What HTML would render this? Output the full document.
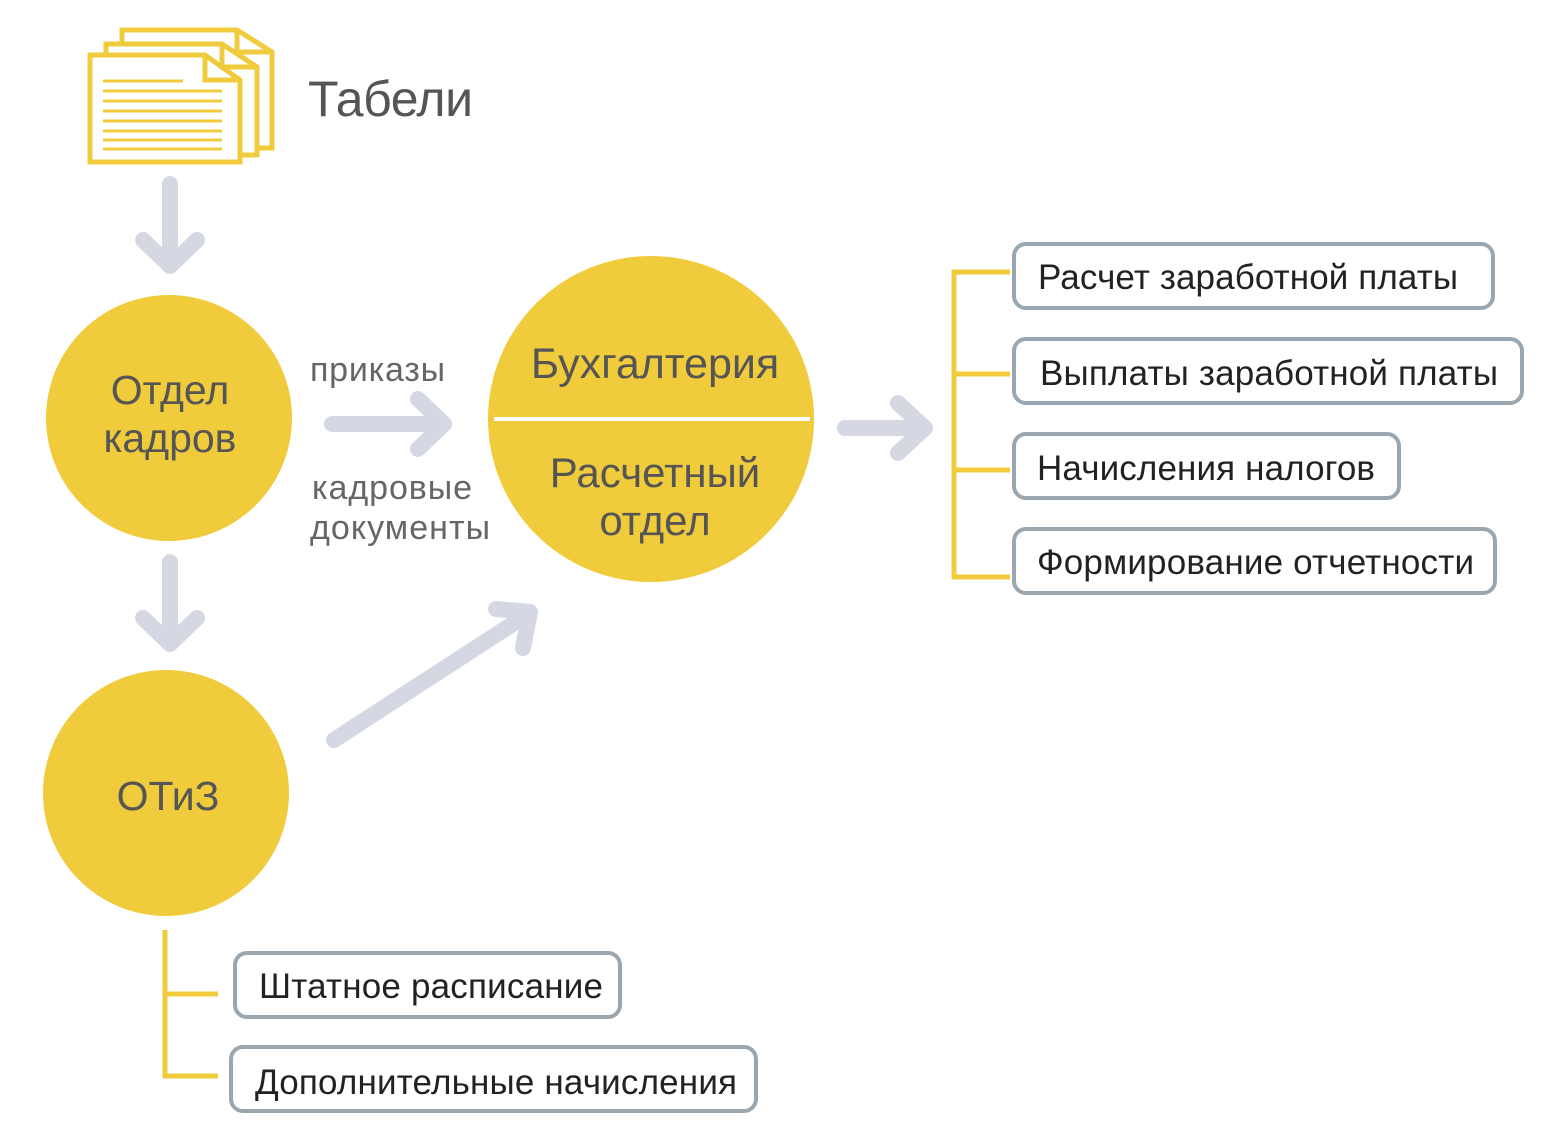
<!DOCTYPE html>
<html><head><meta charset="utf-8"><style>
html,body{margin:0;padding:0;background:#fff;}
svg{display:block;}
text{font-family:"Liberation Sans",sans-serif;}
</style></head><body>
<svg width="1561" height="1139" viewBox="0 0 1561 1139" xmlns="http://www.w3.org/2000/svg">
<!-- documents icon -->
<g fill="#fff" stroke="#F0CB3C" stroke-width="5">
<path d="M122,30 H237 L272,52 V148 H122 Z"/>
<path d="M106,44 H222 L257,67 V155 H106 Z"/>
<path d="M90,55 H205 L240,80 V162 H90 Z"/>
<path d="M205,55 V80 H240" fill="none"/>
<path d="M222,44 V67 H257" fill="none"/>
<path d="M237,30 V52 H272" fill="none"/>
</g>
<g stroke="#F0CB3C" stroke-width="3">
<line x1="103" y1="81" x2="183" y2="81"/>
<line x1="103" y1="91" x2="222" y2="91"/>
<line x1="103" y1="101" x2="222" y2="101"/>
<line x1="103" y1="111" x2="222" y2="111"/>
<line x1="103" y1="121" x2="222" y2="121"/>
<line x1="103" y1="131" x2="222" y2="131"/>
<line x1="103" y1="140" x2="222" y2="140"/>
<line x1="103" y1="149" x2="222" y2="149"/>
</g>
<text x="308" y="116" font-size="50" fill="#555" textLength="165">Табели</text>

<!-- arrows -->
<g stroke="#D5D8E2" stroke-width="16" fill="none" stroke-linecap="round" stroke-linejoin="round">
<line x1="170" y1="184" x2="170" y2="262"/><polyline points="143,240 170,266 197,240"/>
<line x1="170" y1="562" x2="170" y2="642"/><polyline points="143,618 170,644 197,618"/>
<line x1="332" y1="424" x2="442" y2="424"/><polyline points="418,399 444,424 418,449"/>
<line x1="845" y1="428" x2="924" y2="428"/><polyline points="898,403 925,428 898,453"/>
<line x1="334" y1="740" x2="528" y2="614"/><polyline points="496,609 530,612 523,648"/>
</g>

<!-- circles -->
<g fill="#F0CB3C">
<circle cx="169" cy="418" r="123"/>
<circle cx="651" cy="419" r="163"/>
<circle cx="166" cy="793" r="123"/>
</g>
<line x1="494" y1="419" x2="810" y2="419" stroke="#fff" stroke-width="4"/>
<g font-size="41" fill="#555" text-anchor="middle">
<text x="170" y="404">Отдел</text>
<text x="170" y="452">кадров</text>
<text x="655" y="378" font-size="43">Бухгалтерия</text>
<text x="655" y="487" font-size="42">Расчетный</text>
<text x="655" y="535" font-size="42">отдел</text>
<text x="168" y="810">ОТиЗ</text>
</g>
<g font-size="34" fill="#666">
<text x="310" y="381" textLength="135">приказы</text>
<text x="312" y="499" textLength="160">кадровые</text>
<text x="310" y="539" textLength="180">документы</text>
</g>

<!-- brackets -->
<g stroke="#F0CB3C" stroke-width="5" fill="none">
<polyline points="1010,272 954,272 954,577 1010,577"/>
<line x1="954" y1="374" x2="1010" y2="374"/>
<line x1="954" y1="470" x2="1010" y2="470"/>
<polyline points="218,994 165,994 165,930"/>
<polyline points="165,994 165,1076 218,1076"/>
</g>

<!-- boxes -->
<g fill="#fff" stroke="#9AA7B0" stroke-width="4">
<rect x="1014" y="244" width="479" height="64" rx="12"/>
<rect x="1014" y="339" width="508" height="64" rx="12"/>
<rect x="1014" y="434" width="385" height="64" rx="12"/>
<rect x="1014" y="529" width="481" height="64" rx="12"/>
<rect x="235" y="953" width="385" height="64" rx="12"/>
<rect x="231" y="1047" width="525" height="64" rx="12"/>
</g>
<g font-size="35" fill="#222">
<text x="1038" y="289" textLength="420">Расчет заработной платы</text>
<text x="1040" y="385" textLength="458">Выплаты заработной платы</text>
<text x="1037" y="480" textLength="338">Начисления налогов</text>
<text x="1037" y="574" textLength="437">Формирование отчетности</text>
<text x="259" y="998" textLength="344">Штатное расписание</text>
<text x="255" y="1094" textLength="482">Дополнительные начисления</text>
</g>
</svg>
</body></html>
